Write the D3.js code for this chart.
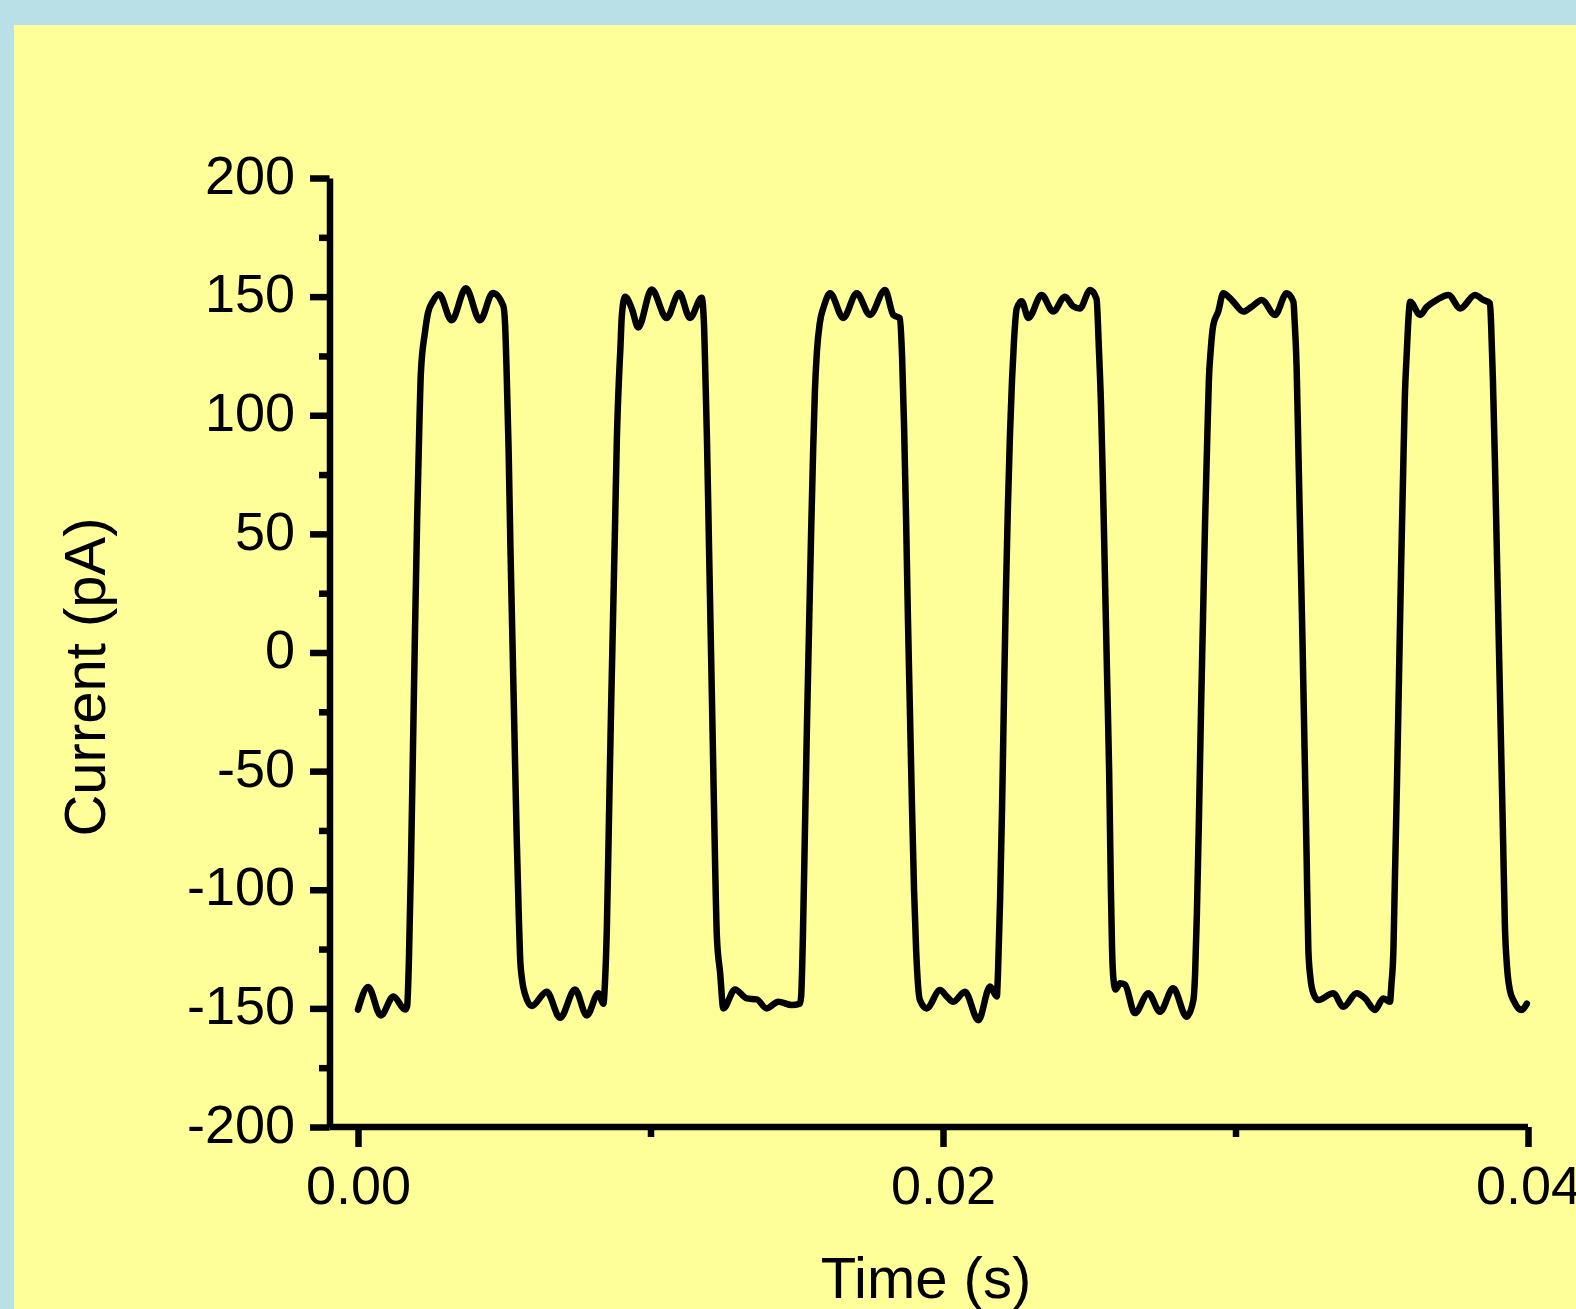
<!DOCTYPE html>
<html>
<head>
<meta charset="utf-8">
<script src="https://cdn.jsdelivr.net/npm/d3@7"></script>
<style>
    body { margin: 0; background: #b9e0e6; }
    svg { display: block; }
    text { font-family: "Liberation Sans", Arial, sans-serif; fill: #000; }
</style>
</head>
<body>
<div id="chart"></div>
<script>
// trace: time (s) and current (pA)
const timeS = [
    0, 0.00035, 0.00078, 0.00121, 0.00161,
    0.00168, 0.00174, 0.00181, 0.00188, 0.00195, 0.00202, 0.00209, 0.00215, 0.00229, 0.00239, 0.00256,
    0.00277, 0.00320, 0.00369, 0.00417, 0.00461, 0.00497,
    0.00503, 0.00508, 0.00515, 0.00521, 0.00528, 0.00535, 0.00542, 0.00549, 0.00554, 0.00561, 0.00571,
    0.00594, 0.00645, 0.00691, 0.00742, 0.00782, 0.00822, 0.00839,
    0.00844, 0.00851, 0.00858, 0.00865, 0.00872, 0.00879, 0.00885, 0.00892, 0.00897, 0.00902, 0.00913,
    0.00936, 0.00958, 0.01004, 0.01055, 0.01098, 0.01135, 0.01175,
    0.01183, 0.01186, 0.01193, 0.01200, 0.01207, 0.01214, 0.01221, 0.01227, 0.01238, 0.01249,
    0.01289, 0.01329, 0.01363, 0.01397, 0.01437, 0.01483, 0.01511,
    0.01515, 0.01521, 0.01528, 0.01535, 0.01542, 0.01549, 0.01556, 0.01562, 0.01569, 0.01579, 0.01593,
    0.01614, 0.01659, 0.01705, 0.01750, 0.01802, 0.01830, 0.01853,
    0.01860, 0.01867, 0.01874, 0.01880, 0.01887, 0.01894, 0.01901, 0.01908, 0.01921, 0.01944,
    0.01990, 0.02013, 0.02035, 0.02075, 0.02121, 0.02161, 0.02184,
    0.02188, 0.02195, 0.02202, 0.02209, 0.02215, 0.02222, 0.02229, 0.02236, 0.02243, 0.02252, 0.02269,
    0.02292, 0.02337, 0.02377, 0.02417, 0.02444, 0.02468, 0.02503, 0.02525,
    0.02533, 0.02540, 0.02547, 0.02554, 0.02561, 0.02568, 0.02574, 0.02578, 0.02583, 0.02590,
    0.02605, 0.02622, 0.02656, 0.02702, 0.02742, 0.02787, 0.02833, 0.02856,
    0.02862, 0.02868, 0.02875, 0.02882, 0.02889, 0.02896, 0.02903, 0.02909, 0.02915, 0.02924, 0.02941,
    0.02958, 0.02987, 0.03027, 0.03055, 0.03090, 0.03135, 0.03175, 0.03198,
    0.03202, 0.03209, 0.03215, 0.03222, 0.03229, 0.03236, 0.03243, 0.03249, 0.03256, 0.03266, 0.03283,
    0.03334, 0.03369, 0.03414, 0.03443, 0.03477, 0.03505, 0.03528,
    0.03533, 0.03540, 0.03545, 0.03552, 0.03559, 0.03566, 0.03573, 0.03579, 0.03585, 0.03590, 0.03597,
    0.03631, 0.03654, 0.03688, 0.03728, 0.03768, 0.03819, 0.03847, 0.03870,
    0.03874, 0.03880, 0.03887, 0.03894, 0.03901, 0.03908, 0.03915, 0.03921, 0.03928, 0.03938, 0.03952,
    0.03967, 0.03978, 0.03996
];
const currentPA = [
    -150.5, -141, -153, -145, -150.5,
    -149, -130, -90, -40, 10, 55, 92, 118, 135, 143, 148,
    151, 140, 153.5, 140, 151.5, 146,
    138, 119, 85, 45, 5, -35, -75, -108, -128, -138, -144,
    -149, -143, -154, -142, -153, -143.6, -148,
    -140, -115, -70, -25, 15, 55, 90, 115, 128, 142, 150,
    145, 137, 153, 141, 151.5, 141, 149.5,
    138, 125, 90, 45, 0, -45, -90, -120, -135, -150,
    -142, -145.8, -146.2, -150, -147.2, -148.6, -148,
    -145, -120, -75, -30, 10, 50, 85, 110, 127, 139, 146,
    151.4, 141, 151.4, 142.3, 152.8, 142.3, 140.9,
    125, 95, 55, 15, -25, -65, -100, -125, -146.5, -150,
    -142.3, -145, -147.2, -143, -155, -140.8, -145,
    -135, -105, -65, -15, 25, 62, 92, 115, 132, 145, 148,
    141, 150.7, 143.7, 150, 146, 145, 152.8, 149,
    128, 105, 70, 30, -10, -50, -100, -125, -138, -142,
    -139.4, -140, -152, -143.6, -151.4, -141.5, -153.5, -146.5,
    -135, -110, -70, -25, 15, 55, 88, 115, 127, 138, 143.7,
    151.4, 148.6, 143.7, 145.7, 148.6, 142.3, 151.4, 147.8,
    140, 120, 85, 45, 5, -40, -85, -125, -137, -143.6, -146.5,
    -143.6, -149.3, -143.6, -145.8, -150.7, -145.8, -147.2,
    -140, -125, -95, -55, -10, 35, 75, 108, 125, 138, 147.8,
    142.3, 145.7, 148.6, 150.7, 145, 150.7, 148.6, 147.2,
    138, 115, 80, 40, 0, -40, -80, -115, -132, -142.3, -147,
    -150, -150.7, -148
];

const xTicks = [0, 0.02, 0.04];
const xMinorTicks = [0.01, 0.03];
const yTicks = [-200, -150, -100, -50, 0, 50, 100, 150, 200];
const yMinorTicks = [-175, -125, -75, -25, 25, 75, 125, 175];

const width = 1576;
const height = 1309;
const axisW = 6.5;
const yAxisX = 329.5;

const svg = d3.select("#chart")
    .append("svg")
    .attr("width", width)
    .attr("height", height);

svg.append("rect")
    .attr("x", 14)
    .attr("y", 25)
    .attr("width", width - 14)
    .attr("height", height - 25)
    .attr("fill", "#ffff99");

const x = d3.scaleLinear().domain([0, 0.04]).range([358, 1528]);
const y = d3.scaleLinear().domain([-200, 200]).range([1127, 178]);

// y axis
const gy = svg.append("g")
    .attr("transform", `translate(${yAxisX},0)`)
    .call(d3.axisLeft(y)
        .tickValues(yTicks)
        .tickSize(19.5)
        .tickSizeOuter(0)
        .tickPadding(15)
        .tickFormat(d => String(d)));

svg.append("g")
    .attr("transform", `translate(${yAxisX},0)`)
    .call(d3.axisLeft(y).tickValues(yMinorTicks).tickSize(10.5).tickFormat(""))
    .call(g => g.select(".domain").remove());

// x axis
const gx = svg.append("g")
    .attr("transform", `translate(0,${y(-200)})`)
    .call(d3.axisBottom(x)
        .tickValues(xTicks)
        .tickSize(20)
        .tickSizeOuter(0)
        .tickPadding(19)
        .tickFormat(d3.format(".2f")))
    .call(g => g.select(".domain").remove());

gx.append("line")
    .attr("x1", yAxisX)
    .attr("x2", x(0.04))
    .attr("stroke", "#000")
    .attr("stroke-width", axisW);

svg.append("g")
    .attr("transform", `translate(0,${y(-200)})`)
    .call(d3.axisBottom(x).tickValues(xMinorTicks).tickSize(10).tickFormat(""))
    .call(g => g.select(".domain").remove());

svg.selectAll(".domain, .tick line")
    .attr("stroke", "#000")
    .attr("stroke-width", axisW);

svg.selectAll(".tick text")
    .attr("font-family", "Liberation Sans, Arial, sans-serif")
    .attr("font-size", 54)
    .attr("fill", "#000");

gy.selectAll(".tick text").attr("dy", "0.28em");

// axis titles
svg.append("text")
    .attr("x", 926)
    .attr("y", 1298)
    .attr("text-anchor", "middle")
    .attr("font-size", 58)
    .text("Time (s)");

svg.append("text")
    .attr("transform", "translate(105,677) rotate(-90)")
    .attr("text-anchor", "middle")
    .attr("font-size", 58)
    .text("Current (pA)");

// trace
const line = d3.line()
    .x(i => x(timeS[i]))
    .y(i => y(currentPA[i]))
    .curve(d3.curveMonotoneX);

svg.append("path")
    .datum(d3.range(timeS.length))
    .attr("d", line)
    .attr("fill", "none")
    .attr("stroke", "#000")
    .attr("stroke-width", 6.5)
    .attr("stroke-linejoin", "round")
    .attr("stroke-linecap", "round");
</script>
</body>
</html>
